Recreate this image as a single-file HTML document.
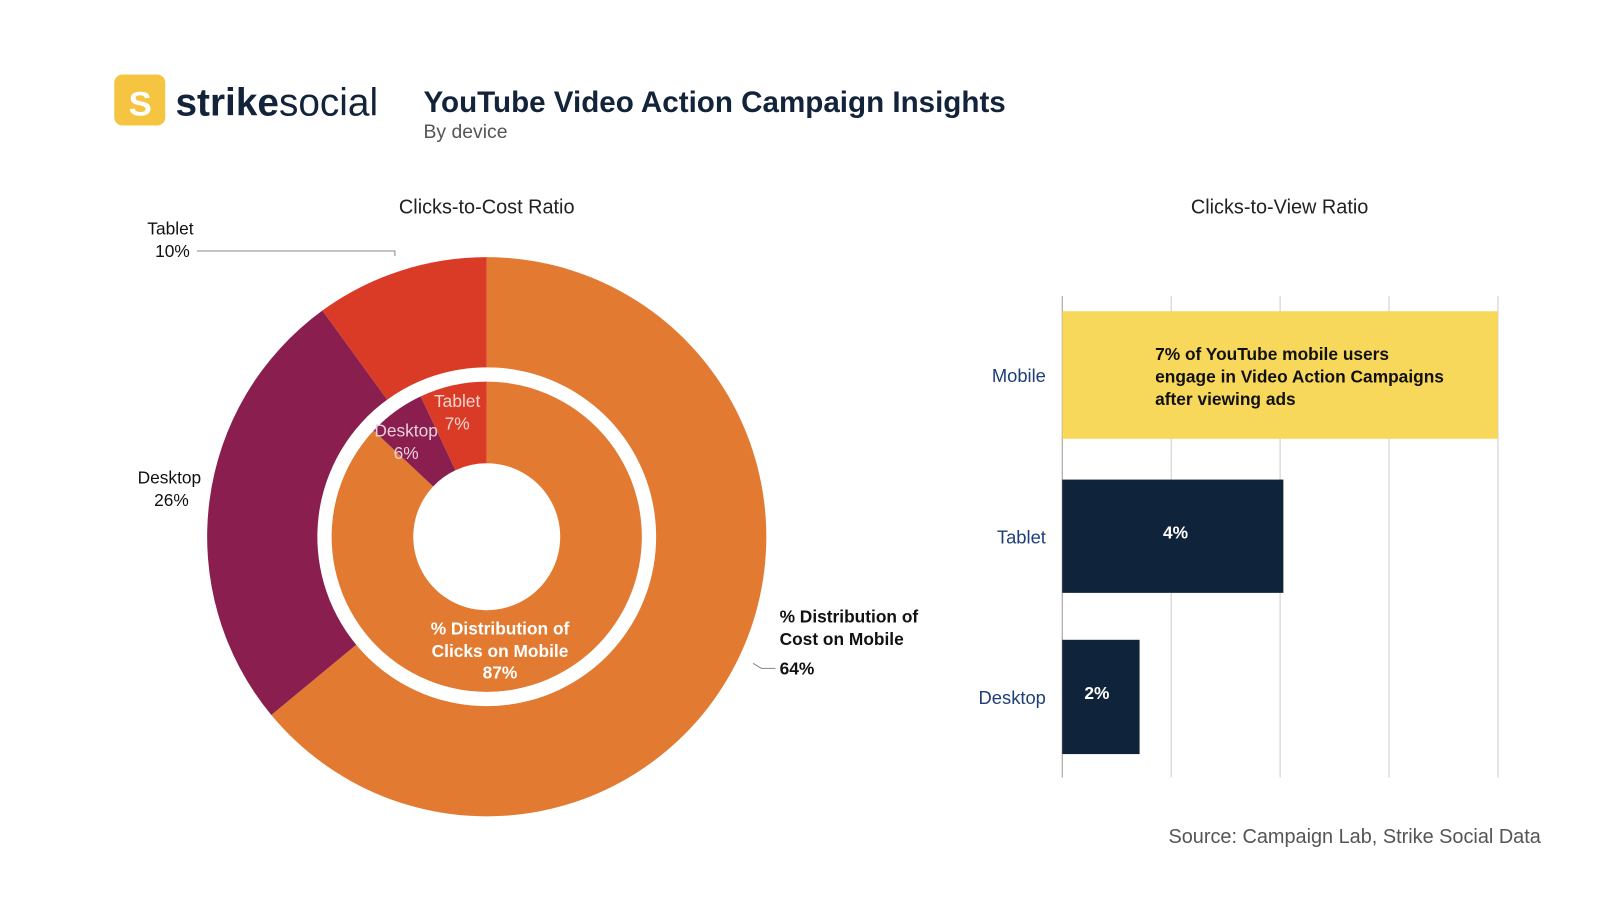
<!DOCTYPE html>
<html><head><meta charset="utf-8"><style>
body{margin:0;background:#fff;width:1600px;height:900px;overflow:hidden;font-family:"Liberation Sans",Arial,sans-serif}
svg{display:block}
</style></head><body>
<svg id="c" width="1600" height="900" viewBox="0 0 1568 882">
<g>
<rect x="112" y="73" width="50" height="50" rx="8" fill="#f5c542"/>
<text x="126" y="113" font-size="34" font-weight="bold" fill="#fff">S</text>
<text x="172" y="113" font-size="38" fill="#13233a"><tspan font-weight="bold">strike</tspan>social</text>
</g>
<text x="415" y="110" font-size="29" font-weight="bold" fill="#13233a">YouTube Video Action Campaign Insights</text>
<text x="415" y="135" font-size="19" fill="#555">By device</text>
<text x="477" y="209" font-size="19.5" fill="#222" text-anchor="middle">Clicks-to-Cost Ratio</text>
<text x="1254" y="209" font-size="19.5" fill="#222" text-anchor="middle">Clicks-to-View Ratio</text>
<g id="donut"></g>
<g id="bars"></g>
<text x="1510" y="826" font-size="19.5" fill="#555" text-anchor="end">Source: Campaign Lab, Strike Social Data</text>
</svg>
<script>
const outerCats=["Mobile","Desktop","Tablet"];
const outerVals=[64,26,10];
const innerCats=["Mobile","Desktop","Tablet"];
const innerVals=[87,6,7];
const barCats=["Mobile","Tablet","Desktop"];
const barVals=[8.0,4.06,1.42];
const barLabels=["","4%","2%"];
const xTicks=[0,2,4,6,8];

const NS="http://www.w3.org/2000/svg";
function mk(t,a,p){const e=document.createElementNS(NS,t);for(const k in a)e.setAttribute(k,a[k]);p.appendChild(e);return e;}
const colors={Mobile:"#e27a31",Desktop:"#8a1e4f",Tablet:"#da3b26"};
const cx=477,cy=526;
function arc(r0,r1,a0,a1){
 const p=(r,a)=>[cx+r*Math.sin(a),cy-r*Math.cos(a)];
 const L=(a1-a0)>Math.PI?1:0;
 const [x1,y1]=p(r1,a0),[x2,y2]=p(r1,a1),[x3,y3]=p(r0,a1),[x4,y4]=p(r0,a0);
 return `M${x1},${y1}A${r1},${r1} 0 ${L} 1 ${x2},${y2}L${x3},${y3}A${r0},${r0} 0 ${L} 0 ${x4},${y4}Z`;
}
const dg=document.getElementById('donut');
function ring(cats,vals,r0,r1,nm){
 const tot=vals.reduce((a,b)=>a+b,0);let a=0;
 cats.forEach((c,i)=>{const a1=a+vals[i]/tot*2*Math.PI;
  const e=mk('path',{d:arc(r0,r1,a,a1),fill:colors[c]},dg);
  
  
  a=a1;});
}
ring(outerCats,outerVals,166,274,'outer');
ring(innerCats,innerVals,72,152,'inner');
function txt(x,y,s,o,p){const e=mk('text',Object.assign({x:x,y:y,'font-size':17},o),p||dg);e.textContent=s;return e;}
let t;
t=txt(167,230,"Tablet",{fill:"#111",'text-anchor':'middle'});
t=txt(169,252,outerVals[2]+"%",{fill:"#111",'text-anchor':'middle'});
t=mk('path',{d:"M193,246H387V251",stroke:"#888",fill:"none"},dg);
t=txt(166,474,"Desktop",{fill:"#111",'text-anchor':'middle'});
t=txt(168,496,outerVals[1]+"%",{fill:"#111",'text-anchor':'middle'});
t=txt(764,610,"% Distribution of",{fill:"#111",'font-weight':'bold'});
t=txt(764,632,"Cost on Mobile",{fill:"#111",'font-weight':'bold'});
t=txt(764,661,outerVals[0]+"%",{fill:"#111",'font-weight':'bold'});
t=mk('path',{d:"M738,650L746,655H760",stroke:"#888",fill:"none"},dg);
t=txt(448,399,"Tablet",{fill:"#f2d6d0",'text-anchor':'middle'});
t=txt(448,421,innerVals[2]+"%",{fill:"#f2d6d0",'text-anchor':'middle'});
t=txt(398,428,"Desktop",{fill:"#e8d0dc",'text-anchor':'middle'});
t=txt(398,450,innerVals[1]+"%",{fill:"#e8d0dc",'text-anchor':'middle'});
t=txt(490,622,"% Distribution of",{fill:"#fff",'font-weight':'bold','text-anchor':'middle'});
t=txt(490,644,"Clicks on Mobile",{fill:"#fff",'font-weight':'bold','text-anchor':'middle'});
t=txt(490,665,innerVals[0]+"%",{fill:"#fff",'font-weight':'bold','text-anchor':'middle'});

// bars
const bg=document.getElementById('bars');
const x0=1041,x1=1468,xmax=8;
const X=v=>x0+v/xmax*(x1-x0);
xTicks.forEach(v=>{const l=mk('line',{x1:X(v),x2:X(v),y1:290,y2:762,stroke:v===0?'#999':'#ccc','stroke-width':1},bg);
 
 });
const bands=[[305,430],[470,581],[627,739]];
barCats.forEach((c,i)=>{
 const [y0,y1]=bands[i];
 const r=mk('rect',{x:x0,y:y0,width:X(barVals[i])-x0,height:y1-y0,fill:i===0?'#f8d85a':'#0f233a'},bg);
 
 
 const lb=txt(1025,(y0+y1)/2+7,c,{fill:'#1d3f78','text-anchor':'end','font-size':18},bg);
 
 
 if(barLabels[i]){const v=txt(i===1?1152:1075,(y0+y1)/2+2,barLabels[i],{fill:'#fff','font-weight':'bold','text-anchor':'middle','font-size':17},bg);
  
  }
});
["7% of YouTube mobile users","engage in Video Action Campaigns","after viewing ads"].forEach((s,k)=>{
 const a=txt(1132,353+k*22,s,{fill:'#111','font-weight':'bold','font-size':17},bg);
 
 });
</script>
</body></html>
